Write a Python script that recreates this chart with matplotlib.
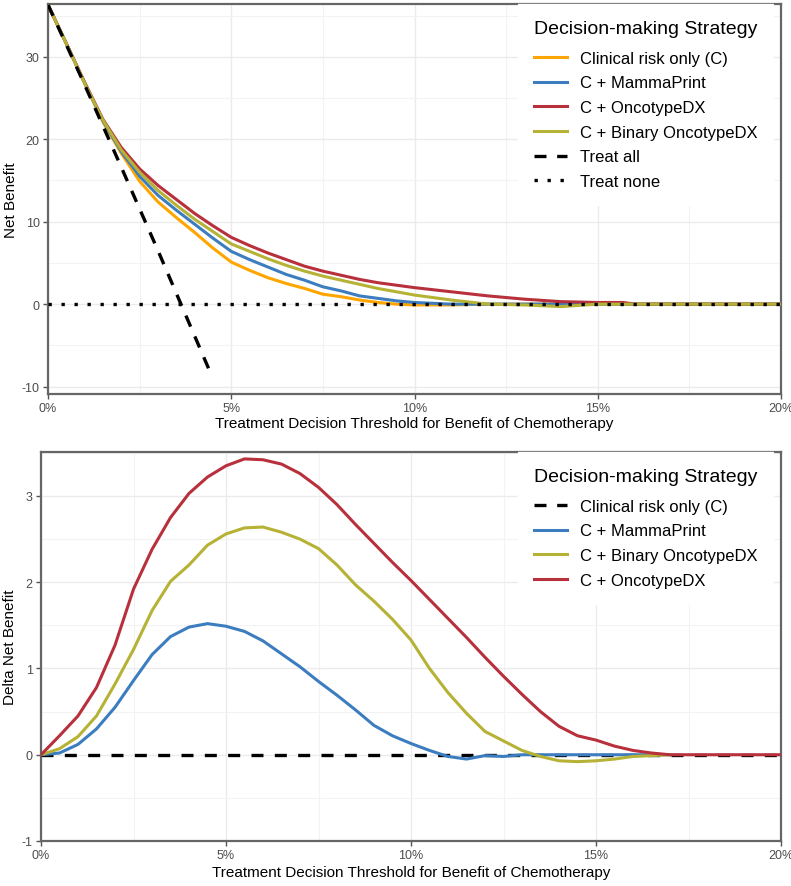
import matplotlib
matplotlib.use("Agg")
import matplotlib.pyplot as plt
from matplotlib.ticker import MultipleLocator, FuncFormatter
from matplotlib.lines import Line2D

plt.rcParams['font.family'] = ['Liberation Sans', 'DejaVu Sans']
plt.rcParams['axes.unicode_minus'] = False

# ---------------- Top panel data (threshold in %, net benefit) ----------------
x_top = [0, 0.5, 1, 1.5, 2, 2.5, 3, 3.5, 4, 4.5, 5, 5.5, 6, 6.5, 7, 7.5, 8, 8.5,
         9, 9.5, 10, 11, 12, 13, 14, 15, 15.7, 16, 17, 18, 20]
nb_clinical = [36.3, 31.6, 26.8, 22.1, 18.3, 14.9, 12.4, 10.5, 8.7, 6.8, 5.1, 4.1,
               3.2, 2.5, 1.9, 1.2, 0.9, 0.5, 0.2, 0.0, -0.1, -0.1, 0, 0, 0, 0, 0, 0, 0, 0, 0]
nb_mammaprint = [36.3, 31.6, 26.8, 22.2, 18.5, 15.5, 13.2, 11.4, 9.7, 8.0, 6.4, 5.4,
                 4.5, 3.6, 2.9, 2.1, 1.6, 1.0, 0.7, 0.4, 0.2, 0, 0, 0, 0, 0, 0, 0, 0, 0, 0]
nb_oncotype = [36.3, 31.6, 26.9, 22.4, 19.0, 16.4, 14.4, 12.7, 11.0, 9.5, 8.1, 7.1,
               6.2, 5.4, 4.6, 4.0, 3.5, 3.0, 2.6, 2.3, 2.0, 1.5, 1.0, 0.6, 0.3, 0.2, 0.2, 0, 0, 0, 0]
nb_binary = [36.3, 31.6, 26.8, 22.3, 18.7, 16.0, 13.8, 12.0, 10.3, 8.8, 7.3, 6.4,
             5.5, 4.7, 4.0, 3.4, 2.9, 2.4, 1.9, 1.5, 1.1, 0.5, 0.0, -0.1, -0.3, 0, 0, 0, 0, 0, 0]
x_treat_all = [0, 1, 2, 3, 4, 4.42]
nb_treat_all = [36.3, 26.6, 16.6, 6.5, -3.85, -8.2]
x_treat_none = [0, 20]
nb_treat_none = [0, 0]

# ---------------- Bottom panel data (threshold in %, delta net benefit) ----------------
x_bot = [0, 0.5, 1, 1.5, 2, 2.5, 3, 3.5, 4, 4.5, 5, 5.5, 6, 6.5, 7, 7.5, 8, 8.5, 9,
         9.5, 10, 10.5, 11, 11.5, 12, 12.5, 13, 13.5, 14, 14.5, 15, 15.5, 16, 16.5, 17, 20]
d_oncotype = [0, 0.22, 0.45, 0.78, 1.27, 1.92, 2.38, 2.75, 3.03, 3.22, 3.35, 3.43, 3.42,
              3.37, 3.26, 3.1, 2.9, 2.67, 2.45, 2.23, 2.02, 1.8, 1.58, 1.36, 1.13, 0.91,
              0.7, 0.5, 0.33, 0.22, 0.17, 0.1, 0.05, 0.02, 0, 0]
d_binary = [0, 0.07, 0.21, 0.45, 0.82, 1.22, 1.67, 2.01, 2.2, 2.43, 2.56, 2.63, 2.64,
            2.58, 2.5, 2.39, 2.2, 1.97, 1.78, 1.57, 1.33, 1.0, 0.72, 0.48, 0.27, 0.16,
            0.05, -0.02, -0.07, -0.08, -0.07, -0.05, -0.02, -0.01, 0, None]
d_mammaprint = [0, 0.02, 0.12, 0.3, 0.55, 0.86, 1.16, 1.37, 1.48, 1.52, 1.49, 1.43, 1.32,
                1.17, 1.02, 0.85, 0.69, 0.52, 0.34, 0.22, 0.13, 0.05, -0.02, -0.05, -0.01,
                -0.02, 0, 0, 0, 0, 0, 0, 0, 0, 0, None]
x_clin_bot = [0, 20]
d_clinical = [0, 0]

# ---------------- style ----------------
C_ORANGE = "#FFA500"
C_BLUE = "#3C7DC0"
C_RED = "#B7303C"
C_OLIVE = "#B5B236"
LW = 2.2

fig = plt.figure(figsize=(7.91, 8.87), dpi=100)
ax1 = fig.add_axes([48/791, 1-395/887, (781-48)/791, (395-5)/887])
ax2 = fig.add_axes([41/791, 1-842/887, (781-41)/791, (842-453)/887])

pct = FuncFormatter(lambda v, p: f"{v:.0f}%")


def style(ax, xlabelpad):
    ax.set_facecolor("white")
    ax.grid(True, which="major", color="#EBEBEB", lw=1.0, zorder=0)
    ax.grid(True, which="minor", color="#F3F3F3", lw=0.8, zorder=0)
    ax.set_axisbelow(True)
    for s in ax.spines.values():
        s.set_color("#666666")
        s.set_linewidth(1.6)
    ax.tick_params(which="major", length=3.5, width=1.0, color="#555555",
                   labelsize=9, labelcolor="#4D4D4D", pad=2.5)
    ax.tick_params(which="minor", length=0)
    ax.xaxis.set_major_locator(MultipleLocator(5))
    ax.xaxis.set_minor_locator(MultipleLocator(2.5))
    ax.xaxis.set_major_formatter(pct)
    ax.set_xlim(0, 20)
    ax.set_xlabel("Treatment Decision Threshold for Benefit of Chemotherapy",
                  fontsize=11, labelpad=xlabelpad)


# ---- top ----
style(ax1, 1.5)
ax1.plot(x_top, nb_clinical, color=C_ORANGE, lw=LW, label="Clinical risk only (C)", zorder=3)
ax1.plot(x_top, nb_mammaprint, color=C_BLUE, lw=LW, label="C + MammaPrint", zorder=3)
ax1.plot(x_top, nb_oncotype, color=C_RED, lw=LW, label="C + OncotypeDX", zorder=3)
ax1.plot(x_top, nb_binary, color=C_OLIVE, lw=LW, label="C + Binary OncotypeDX", zorder=3)
ax1.plot(x_treat_all, nb_treat_all, color="black", lw=2.4, dashes=(3.6, 3.2),
         label="Treat all", zorder=4)
ax1.plot(x_treat_none, nb_treat_none, color="black", lw=2.4, dashes=(1, 2.9),
         label="Treat none", zorder=4)
ax1.set_ylim(-10.9, 36.4)
ax1.yaxis.set_major_locator(MultipleLocator(10))
ax1.yaxis.set_minor_locator(MultipleLocator(5))
ax1.set_ylabel("Net Benefit", fontsize=11, labelpad=3)

h1 = [Line2D([], [], color=C_ORANGE, lw=LW),
      Line2D([], [], color=C_BLUE, lw=LW),
      Line2D([], [], color=C_RED, lw=LW),
      Line2D([], [], color=C_OLIVE, lw=LW),
      Line2D([], [], color="black", lw=2.4, dashes=(3.6, 3.2)),
      Line2D([], [], color="black", lw=2.4, dashes=(1, 2.9))]
l1 = ["Clinical risk only (C)", "C + MammaPrint", "C + OncotypeDX",
      "C + Binary OncotypeDX", "Treat all", "Treat none"]

leg_kw = dict(loc="upper left", frameon=True, fancybox=False, framealpha=1,
              edgecolor="white", facecolor="white", fontsize=12,
              title="Decision-making Strategy", title_fontsize=14,
              alignment="left", handlelength=2.0, handletextpad=0.75,
              labelspacing=0.58, borderpad=0.95, borderaxespad=0)
lg1 = ax1.legend(h1, l1, bbox_to_anchor=((518-48)/733, 1.0), **leg_kw)
lg1.set_zorder(5)
lg1._legend_box.sep = 10

# ---- bottom ----
style(ax2, 3)
ax2.plot(x_clin_bot, d_clinical, color="black", lw=2.4, dashes=(3.6, 3.4), zorder=3)
ax2.plot(x_bot, d_mammaprint, color=C_BLUE, lw=LW, zorder=3)
ax2.plot(x_bot, d_binary, color=C_OLIVE, lw=LW, zorder=3)
ax2.plot(x_bot, d_oncotype, color=C_RED, lw=LW, zorder=3)
ax2.set_ylim(-1.0, 3.51)
ax2.yaxis.set_major_locator(MultipleLocator(1))
ax2.yaxis.set_minor_locator(MultipleLocator(0.5))
ax2.set_ylabel("Delta Net Benefit", fontsize=11, labelpad=3)

h2 = [Line2D([], [], color="black", lw=2.4, dashes=(3.6, 3.2)),
      Line2D([], [], color=C_BLUE, lw=LW),
      Line2D([], [], color=C_OLIVE, lw=LW),
      Line2D([], [], color=C_RED, lw=LW)]
l2 = ["Clinical risk only (C)", "C + MammaPrint", "C + Binary OncotypeDX", "C + OncotypeDX"]
lg2 = ax2.legend(h2, l2, bbox_to_anchor=((518-41)/740, 1.0), **leg_kw)
lg2.set_zorder(5)
lg2._legend_box.sep = 10

fig.savefig("out.png", dpi=100)
